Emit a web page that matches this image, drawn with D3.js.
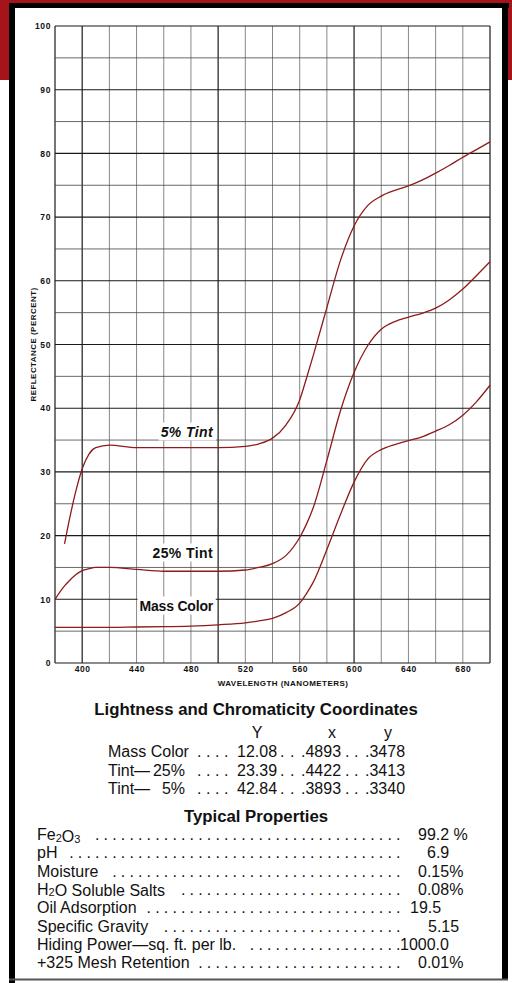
<!DOCTYPE html>
<html>
<head>
<meta charset="utf-8">
<script src="https://cdn.jsdelivr.net/npm/d3@7"></script>
<style>
  body { margin: 0; background: #fff; }
  svg { display: block; }
  .tick-lbl { font-family: "Liberation Sans", Arial, sans-serif; font-weight: bold; font-size: 8.5px; letter-spacing: 0.6px; fill: #111; }
  .ax-title { font-family: "Liberation Sans", Arial, sans-serif; font-weight: bold; font-size: 8px; letter-spacing: 0.45px; fill: #111; }
  .curve-lbl { font-family: "Liberation Sans", Arial, sans-serif; font-weight: bold; font-size: 14px; fill: #111; }
  .body { font-family: "Liberation Sans", Arial, sans-serif; font-size: 16px; fill: #111; }
  .head { font-family: "Liberation Sans", Arial, sans-serif; font-size: 16.8px; font-weight: bold; fill: #111; }
</style>
</head>
<body>
<div id="container"></div>
<script>
// wavelength samples (nm) and reflectance (%)
const wavelengths = [380, 387, 390, 395, 400, 405, 410, 420, 440, 460, 480, 500, 520, 530, 540, 550,
                     560, 565, 570, 580, 590, 600, 610, 620, 630, 640, 650, 660, 670, 680, 690, 700];
const tint5 = [null, 18.7, 21.9, 26.7, 30.5, 32.8, 33.8, 34.2, 33.8, 33.8, 33.8, 33.8, 34.0, 34.4, 35.3, 37.4,
               41.3, 44.7, 48.3, 55.8, 63.2, 68.6, 71.8, 73.3, 74.2, 74.9, 75.8, 76.9, 78.1, 79.4, 80.6, 81.8];
const tint25 = [10.0, 12.1, 12.8, 13.8, 14.5, 14.8, 15.0, 15.0, 14.7, 14.4, 14.4, 14.4, 14.6, 15.0, 15.6, 16.9,
                19.7, 21.8, 24.4, 31.8, 39.6, 45.6, 49.8, 52.4, 53.6, 54.3, 54.9, 55.7, 57.0, 58.7, 60.8, 63.0];
const massColor = [5.6, 5.6, 5.6, 5.6, 5.6, 5.6, 5.6, 5.6, 5.65, 5.7, 5.8, 6.0, 6.3, 6.6, 7.0, 7.9,
                   9.4, 10.9, 12.7, 17.8, 23.3, 28.4, 32.0, 33.5, 34.3, 34.9, 35.5, 36.4, 37.4, 38.9, 41.0, 43.6];

const curveNames = ["5% Tint", "25% Tint", "Mass Color"];
const xTickLabels = [400, 440, 480, 520, 560, 600, 640, 680];
const yTickLabels = [0, 10, 20, 30, 40, 50, 60, 70, 80, 90, 100];

// chromaticity table
const coordHeads = ["Y", "x", "y"];
const coordRows = ["Mass Color", "Tint\u2014", "Tint\u2014"];
const coordPct = ["", "25%", "5%"];
const coordY = ["12.08", "23.39", "42.84"];
const coordX = [".4893", ".4422", ".3893"];
const coordy = [".3478", ".3413", ".3340"];

// typical properties
const propNames = ["Fe2O3", "pH", "Moisture", "H2O Soluble Salts", "Oil Adsorption",
                   "Specific Gravity", "Hiding Power\u2014sq. ft. per lb.", "+325 Mesh Retention"];
const propValues = ["99.2 %", "6.9", "0.15%", "0.08%", "19.5", "5.15", "1000.0", "0.01%"];

const W = 512, H = 983;
const svg = d3.select("#container").append("svg")
    .attr("width", W).attr("height", H)
    .attr("viewBox", `0 0 ${W} ${H}`);

svg.append("rect").attr("width", W).attr("height", H).attr("fill", "#fff");

// red background peeking out at the top
const red = "#a5141b";
svg.append("rect").attr("x", 0).attr("y", 0).attr("width", W).attr("height", 8).attr("fill", red);
svg.append("rect").attr("x", 0).attr("y", 0).attr("width", 11).attr("height", 80).attr("fill", red);
svg.append("rect").attr("x", 504).attr("y", 0).attr("width", 8).attr("height", 80).attr("fill", red);

// black frame
svg.append("line").attr("x1", 9).attr("x2", 509).attr("y1", 5.5).attr("y2", 5.5)
    .attr("stroke", "#000").attr("stroke-width", 5);
svg.append("line").attr("x1", 12).attr("x2", 12).attr("y1", 3).attr("y2", 983)
    .attr("stroke", "#000").attr("stroke-width", 6);
svg.append("line").attr("x1", 505).attr("x2", 505).attr("y1", 3).attr("y2", 980)
    .attr("stroke", "#000").attr("stroke-width", 6);
svg.append("line").attr("x1", 9).attr("x2", 508).attr("y1", 979.5).attr("y2", 979.5)
    .attr("stroke", "#555").attr("stroke-width", 2);

// scales
const x = d3.scaleLinear().domain([380, 700]).range([55, 490]);
const y = d3.scaleLinear().domain([0, 100]).range([663, 26]);

// grid
const grid = svg.append("g");
grid.selectAll("line.v")
    .data(d3.range(380, 701, 20))
    .enter().append("line")
    .attr("x1", d => x(d)).attr("x2", d => x(d))
    .attr("y1", y(0)).attr("y2", y(100))
    .attr("stroke", d => d % 100 === 0 || d === 380 ? "#1a1a1a" : "#555")
    .attr("stroke-width", d => d % 100 === 0 || d === 380 ? 1.2 : 0.7);
grid.selectAll("line.h")
    .data(d3.range(0, 101, 5))
    .enter().append("line")
    .attr("x1", x(380)).attr("x2", x(700))
    .attr("y1", d => y(d)).attr("y2", d => y(d))
    .attr("stroke", d => d % 10 === 0 ? "#1a1a1a" : "#444")
    .attr("stroke-width", d => d % 10 === 0 ? 1.1 : 0.8);

// axes (labels only, grid drawn above)
const yAxis = svg.append("g")
    .attr("transform", `translate(${x(380)},0)`)
    .call(d3.axisLeft(y).tickValues(yTickLabels).tickSize(0).tickPadding(4));
yAxis.select(".domain").remove();
yAxis.selectAll("text").attr("class", "tick-lbl");
yAxis.attr("font-size", null).attr("font-family", null);

const xAxis = svg.append("g")
    .attr("transform", `translate(0,${y(0)})`)
    .call(d3.axisBottom(x).tickValues(xTickLabels).tickSize(0).tickPadding(3));
xAxis.select(".domain").remove();
xAxis.selectAll("text").attr("class", "tick-lbl");
xAxis.attr("font-size", null).attr("font-family", null);

svg.append("text").attr("class", "ax-title")
    .attr("x", 283).attr("y", 686).attr("text-anchor", "middle")
    .text("WAVELENGTH (NANOMETERS)");
svg.append("text").attr("class", "ax-title")
    .attr("transform", `translate(36,${(y(0) + y(100)) / 2}) rotate(-90)`)
    .attr("text-anchor", "middle")
    .text("REFLECTANCE (PERCENT)");

// curves
const series = [tint5, tint25, massColor];
const line = d3.line()
    .defined(d => d[1] != null)
    .x(d => x(d[0]))
    .y(d => y(d[1]))
    .curve(d3.curveMonotoneX);

svg.append("g").selectAll("path")
    .data(series)
    .enter().append("path")
    .attr("d", s => line(wavelengths.map((w, i) => [w, s[i]])))
    .attr("fill", "none")
    .attr("stroke", "#8e1b1b")
    .attr("stroke-width", 1.3);

// curve labels (white box behind, like the printed sheet)
const lblPos = [[213, 437, true, 0.4], [213, 558, false, 0.4], [213, 611, false, -0.2]];
curveNames.forEach((name, i) => {
    const [lx, ly, ital, ls] = lblPos[i];
    const g = svg.append("g");
    const t = g.append("text").attr("class", "curve-lbl")
        .attr("x", lx).attr("y", ly).attr("text-anchor", "end")
        .style("font-style", ital ? "italic" : "normal")
        .style("letter-spacing", ls + "px")
        .text(name);
    const bb = t.node().getBBox();
    g.insert("rect", "text")
        .attr("x", bb.x - 2).attr("y", bb.y - 1.5)
        .attr("width", bb.width + 4).attr("height", bb.height + 2)
        .attr("fill", "#fff");
});

// helper: dotted leaders
function dots(x0, x1, yy, step) {
    const pts = [];
    for (let p = x1; p >= x0; p -= step) pts.push(p);
    svg.append("g").selectAll("text")
        .data(pts).enter().append("text")
        .attr("class", "body")
        .attr("x", d => d).attr("y", yy)
        .text(".");
}

// chromaticity table
svg.append("text").attr("class", "head")
    .attr("x", 256).attr("y", 715).attr("text-anchor", "middle")
    .text("Lightness and Chromaticity Coordinates");

const headX = [257, 332, 388];
coordHeads.forEach((h, i) => {
    svg.append("text").attr("class", "body")
        .attr("x", headX[i]).attr("y", 738).attr("text-anchor", "middle").text(h);
});

coordRows.forEach((r, i) => {
    const by = 757 + i * 18.6;
    svg.append("text").attr("class", "body").attr("x", 108).attr("y", by).text(r);
    if (coordPct[i]) {
        svg.append("text").attr("class", "body").attr("x", 185).attr("y", by)
            .attr("text-anchor", "end").text(coordPct[i]);
    }
    dots(197, 224, by, 9);
    svg.append("text").attr("class", "body").attr("x", 237).attr("y", by).text(coordY[i]);
    dots(280, 290, by, 10);
    svg.append("text").attr("class", "body").attr("x", 301).attr("y", by).text(coordX[i]);
    dots(345, 354, by, 9);
    svg.append("text").attr("class", "body").attr("x", 365).attr("y", by).text(coordy[i]);
});

// typical properties
svg.append("text").attr("class", "head")
    .attr("x", 256).attr("y", 822).attr("text-anchor", "middle")
    .text("Typical Properties");

const valX = [418, 427, 418, 418, 410, 428, 400, 418];
propNames.forEach((p, i) => {
    const by = 840 + i * 18.3;
    const t = svg.append("text").attr("class", "body").attr("x", 37).attr("y", by);
    // chemical formulas get small subscripts
    if (p === "Fe2O3" || p.startsWith("H2O")) {
        p.match(/\d|[^\d]+/g).forEach(seg => {
            if (/^\d$/.test(seg)) {
                t.append("tspan").attr("font-size", 11).attr("dy", 1.5).text(seg);
                t.append("tspan").attr("dy", -1.5).text("");
            } else {
                t.append("tspan").text(seg);
            }
        });
    } else {
        t.text(p);
    }
    const end = 37 + t.node().getComputedTextLength();
    dots(end + 8, 396, by, 8.6);
    svg.append("text").attr("class", "body").attr("x", valX[i]).attr("y", by)
        .style("white-space", "pre")
        .text(propValues[i]);
});
</script>
</body>
</html>
